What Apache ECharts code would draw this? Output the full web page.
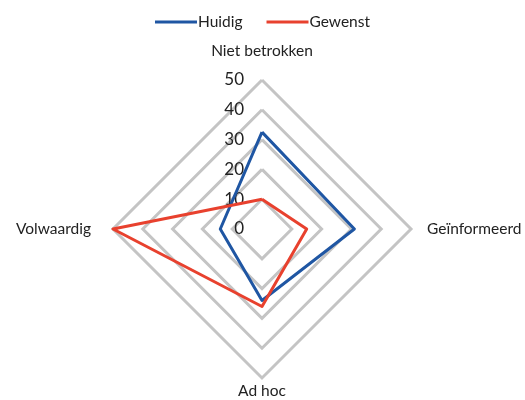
<!DOCTYPE html>
<html>
<head>
<meta charset="utf-8">
<script src="https://cdn.jsdelivr.net/npm/echarts@6/dist/echarts.min.js"></script>
<style>
  html, body { margin: 0; padding: 0; background: #fff; }
  #chart { width: 525px; height: 400px; }
</style>
</head>
<body>
<div id="chart"></div>
<script>
// Radar dimensions, listed clockwise from the top
const indicators = ['Niet betrokken', 'Geïnformeerd', 'Ad hoc', 'Volwaardig'];
const seriesNames = ['Huidig', 'Gewenst'];
const huidig = [32.5, 31, 24, 14];
const gewenst = [10, 15, 26, 50];
const axisMax = 50;
const tickStep = 10;

const FONT = 'Lato, "Open Sans", sans-serif';
const FONT_SIZE = 15.5;
const TICK_FONT_SIZE = 17;
const colors = ['#1f56a3', '#e8412e'];

// ECharts lays radar axes out counter-clockwise, so reverse everything after the first axis
const order = [0, 3, 2, 1];
const ordered = arr => order.map(i => arr[i]);

// Extra spacing for each axis name
const namePadding = {
  'Niet betrokken': [0, 0, 16, 0],
  'Geïnformeerd': [0, 0, 0, 11],
  'Ad hoc': [0, 0, 0, 0],
  'Volwaardig': [0, 17, 0, 0]
};

const CX = 262, CY = 229, R = 149;

const chart = echarts.init(document.getElementById('chart'), null, { renderer: 'canvas' });

chart.setOption({
  animation: false,
  color: colors,
  legend: {
    top: 9,
    left: 'center',
    itemWidth: 42,
    itemHeight: 3,
    itemGap: 24,
    icon: 'rect',
    textStyle: { fontFamily: FONT, fontSize: FONT_SIZE, color: '#222', padding: [0, 0, 0, -4] },
    data: seriesNames
  },
  // Value scale drawn along the upward axis
  grid: { left: CX, top: CY - R, width: 1, height: R, containLabel: false },
  xAxis: { type: 'value', show: false },
  yAxis: {
    type: 'value',
    min: 0,
    max: axisMax,
    interval: tickStep,
    axisLine: { show: false },
    axisTick: { show: false },
    splitLine: { show: false },
    axisLabel: { margin: 18, fontFamily: FONT, fontSize: TICK_FONT_SIZE, color: '#222' }
  },
  radar: {
    center: [CX, CY],
    radius: R,
    shape: 'polygon',
    splitNumber: axisMax / tickStep,
    startAngle: 90,
    nameGap: 5,
    indicator: ordered(indicators).map(n => ({ name: n, min: 0, max: axisMax })),
    axisName: {
      formatter: function (name) {
        return '{k' + indicators.indexOf(name) + '|' + name + '}';
      },
      rich: Object.fromEntries(indicators.map((n, i) => ['k' + i, {
        fontFamily: FONT, fontSize: FONT_SIZE, color: '#222', padding: namePadding[n]
      }]))
    },
    splitLine: { lineStyle: { color: '#c4c4c4', width: 3 } },
    splitArea: { show: false },
    axisLine: { show: false },
    axisTick: { show: false },
    axisLabel: { show: false }
  },
  series: [{
    type: 'radar',
    symbol: 'none',
    data: [
      { name: seriesNames[0], value: ordered(huidig), lineStyle: { color: colors[0], width: 3 } },
      { name: seriesNames[1], value: ordered(gewenst), lineStyle: { color: colors[1], width: 3 } }
    ]
  }]
});
</script>
</body>
</html>
